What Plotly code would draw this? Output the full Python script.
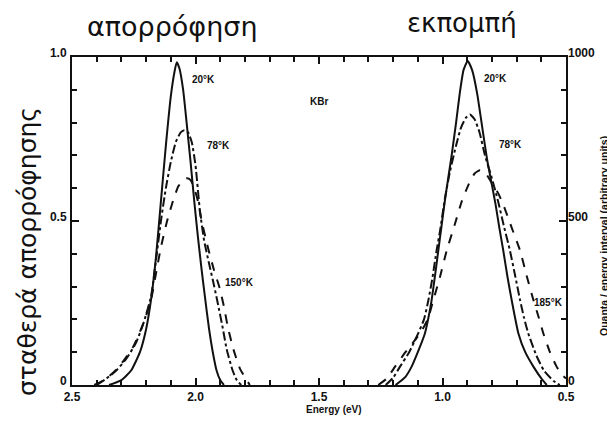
import plotly.graph_objects as go

# ---------------- data ----------------
# Absorption (KBr F-band), left half of the chart
abs20_E = [2.35, 2.30, 2.26, 2.225, 2.20, 2.18, 2.16, 2.14, 2.12, 2.10, 2.085, 2.076,
           2.065, 2.050, 2.036, 2.020, 2.005, 1.990, 1.975, 1.962, 1.945, 1.930, 1.915, 1.900, 1.885]
abs20_v = [0.0, 0.015, 0.045, 0.10, 0.17, 0.26, 0.39, 0.56, 0.73, 0.88, 0.955, 0.984,
           0.965, 0.90, 0.80, 0.68, 0.56, 0.45, 0.35, 0.27, 0.17, 0.10, 0.045, 0.015, 0.0]

abs78_E = [2.40, 2.36, 2.32, 2.28, 2.24, 2.21, 2.18, 2.16, 2.14, 2.12, 2.10, 2.08, 2.06, 2.045,
           2.03, 2.015, 2.0, 1.982, 1.965, 1.945, 1.924, 1.91, 1.89, 1.874, 1.85, 1.833, 1.815]
abs78_v = [0.0, 0.02, 0.045, 0.08, 0.13, 0.19, 0.27, 0.38, 0.50, 0.60, 0.68, 0.74, 0.77, 0.777,
           0.77, 0.74, 0.67, 0.53, 0.44, 0.37, 0.30, 0.25, 0.175, 0.11, 0.045, 0.015, 0.0]

abs150_E = [2.41, 2.37, 2.33, 2.29, 2.25, 2.21, 2.18, 2.16, 2.14, 2.115, 2.09, 2.07, 2.05, 2.035,
            2.02, 2.005, 1.99, 1.975, 1.95, 1.925, 1.904, 1.885, 1.87, 1.847, 1.82, 1.793, 1.78]
abs150_v = [0.0, 0.015, 0.04, 0.075, 0.12, 0.19, 0.26, 0.34, 0.42, 0.50, 0.564, 0.605, 0.625, 0.63,
            0.625, 0.60, 0.56, 0.50, 0.42, 0.35, 0.30, 0.24, 0.18, 0.11, 0.05, 0.015, 0.0]

# Emission, right half of the chart (right axis in units of 1000)
em20_E = [1.19, 1.15, 1.125, 1.10, 1.071, 1.057, 1.044, 1.03, 1.017, 1.003, 0.99, 0.977, 0.963,
          0.945, 0.93, 0.915, 0.898, 0.88, 0.86, 0.84, 0.82, 0.80, 0.785, 0.77, 0.754, 0.737,
          0.72, 0.693, 0.665, 0.632, 0.60, 0.578]
em20_v = [0.0, 0.025, 0.056, 0.10, 0.158, 0.205, 0.259, 0.335, 0.41, 0.49, 0.564, 0.63, 0.70,
          0.80, 0.89, 0.96, 0.988, 0.96, 0.89, 0.79, 0.69, 0.61, 0.55, 0.48, 0.41, 0.33,
          0.259, 0.158, 0.10, 0.056, 0.02, 0.0]

em78_E = [1.23, 1.20, 1.172, 1.135, 1.098, 1.075, 1.057, 1.04, 1.024, 1.01, 0.99, 0.97, 0.945,
          0.925, 0.905, 0.889, 0.87, 0.85, 0.828, 0.80, 0.775, 0.75, 0.727, 0.705, 0.686, 0.67,
          0.653, 0.62, 0.59, 0.55, 0.525]
em78_v = [0.0, 0.022, 0.056, 0.10, 0.158, 0.20, 0.259, 0.33, 0.41, 0.47, 0.57, 0.65, 0.73,
          0.785, 0.815, 0.825, 0.81, 0.77, 0.70, 0.63, 0.56, 0.48, 0.41, 0.33, 0.259, 0.205,
          0.158, 0.09, 0.045, 0.012, 0.0]

em185_E = [1.26, 1.225, 1.192, 1.15, 1.09, 1.06, 1.037, 1.01, 0.983, 0.95, 0.922, 0.895, 0.87,
           0.848, 0.825, 0.80, 0.775, 0.754, 0.72, 0.686, 0.66, 0.632, 0.61, 0.592, 0.565,
           0.538, 0.515, 0.50]
em185_v = [0.0, 0.02, 0.056, 0.10, 0.158, 0.20, 0.259, 0.33, 0.41, 0.49, 0.56, 0.61, 0.645,
           0.655, 0.645, 0.615, 0.585, 0.55, 0.48, 0.41, 0.335, 0.259, 0.205, 0.158, 0.10,
           0.056, 0.03, 0.02]

x_ticks = [2.5, 2.0, 1.5, 1.0, 0.5]
x_ticktext = ["2.5", "2.0", "1.5", "1.0", "0.5"]
yl_ticks = [0, 0.5, 1.0]
yl_ticktext = ["0", "0.5", "1.0"]
yr_ticks = [0, 500, 1000]
yr_ticktext = ["0", "500", "1000"]

curve_labels = [
    ("20°K", 2.022, 0.93),
    ("78°K", 1.962, 0.73),
    ("150°K", 1.889, 0.314),
    ("KBr", 1.545, 0.865),
    ("20°K", 0.84, 0.933),
    ("78°K", 0.78, 0.732),
    ("185°K", 0.638, 0.253),
]

# ---------------- figure ----------------
INK = "#111111"
FONT = "Liberation Sans"

# page body has an 8 px margin; plot area is placed at page px 72..566 x 57..385
PW, PH = 607, 419
fig = go.Figure()

series = [
    (abs20_E, abs20_v, "solid", "20°K absorption"),
    (abs78_E, abs78_v, "dashdot", "78°K absorption"),
    (abs150_E, abs150_v, "dash", "150°K absorption"),
    (em20_E, em20_v, "solid", "20°K emission"),
    (em78_E, em78_v, "dashdot", "78°K emission"),
    (em185_E, em185_v, "dash", "185°K emission"),
]
for xs, ys, dash, name in series:
    fig.add_trace(go.Scatter(
        x=xs, y=ys, mode="lines", name=name,
        line=dict(color=INK, width=2, dash=dash, shape="spline", smoothing=0.5),
        showlegend=False, hoverinfo="skip"))

fig.add_trace(go.Scatter(x=[1.5], y=[0], yaxis="y2", mode="markers",
                         marker=dict(opacity=0), showlegend=False, hoverinfo="skip"))

for txt, ex, vy in curve_labels:
    fig.add_annotation(x=ex, y=vy, xref="x", yref="y", text=txt, showarrow=False,
                       xanchor="left", yanchor="middle",
                       font=dict(family=FONT, size=10, color=INK, weight="bold"))


def px(x):
    return (x - 72) / 494


def py(y):
    return (385 - y) / 328


fig.add_annotation(x=px(172), y=py(26), xref="paper", yref="paper",
                   text="απορρόφηση", showarrow=False, xanchor="center", yanchor="middle",
                   font=dict(family="DejaVu Sans", size=27, color=INK))
fig.add_annotation(x=px(462), y=py(23), xref="paper", yref="paper",
                   text="εκπομπή", showarrow=False, xanchor="center", yanchor="middle",
                   font=dict(family="DejaVu Sans", size=26, color=INK))
fig.add_annotation(x=px(27), y=py(252), xref="paper", yref="paper",
                   text="σταθερά απορρόφησης", showarrow=False, textangle=-90,
                   xanchor="center", yanchor="middle",
                   font=dict(family="DejaVu Sans", size=25, color=INK))
fig.add_annotation(x=px(604), y=py(236), xref="paper", yref="paper",
                   text="Quanta / energy interval (arbitrary units)", showarrow=False, textangle=-90,
                   xanchor="center", yanchor="middle",
                   font=dict(family=FONT, size=10.5, color=INK, weight="bold"))
fig.add_annotation(x=px(334), y=py(409), xref="paper", yref="paper",
                   text="Energy (eV)", showarrow=False, xanchor="center", yanchor="middle",
                   font=dict(family=FONT, size=10, color=INK, weight="bold"))

tickfont = dict(family=FONT, size=12, color=INK, weight="bold")

fig.update_layout(
    width=PW, height=PH,
    margin=dict(l=64, r=PW - 558, t=49, b=PH - 377),
    paper_bgcolor="white", plot_bgcolor="white",
    xaxis=dict(range=[2.5, 0.5], tickvals=x_ticks, ticktext=x_ticktext,
               ticks="inside", ticklen=7, tickwidth=1.5, tickcolor=INK,
               minor=dict(dtick=0.1, ticks="inside", ticklen=5, tickwidth=1.5, tickcolor=INK, showgrid=False),
               showline=True, linecolor=INK, linewidth=2, mirror="ticks",
               showgrid=False, zeroline=False, tickfont=tickfont),
    yaxis=dict(range=[0, 1.0], tickvals=yl_ticks, ticktext=yl_ticktext,
               ticks="inside", ticklen=7, tickwidth=1.5, tickcolor=INK,
               minor=dict(dtick=0.1, ticks="inside", ticklen=5, tickwidth=1.5, tickcolor=INK, showgrid=False),
               showline=True, linecolor=INK, linewidth=2, mirror="ticks",
               showgrid=False, zeroline=False, tickfont=tickfont, ticklabelstandoff=1,
               ticklabelshift=-4),
    yaxis2=dict(range=[0, 1000], overlaying="y", side="right", tickvals=yr_ticks,
                ticktext=yr_ticktext, ticks="", showline=False, showgrid=False,
                zeroline=False, tickfont=tickfont, ticklabelstandoff=1, ticklabelshift=-4),
)

fig.write_html("out.html")
